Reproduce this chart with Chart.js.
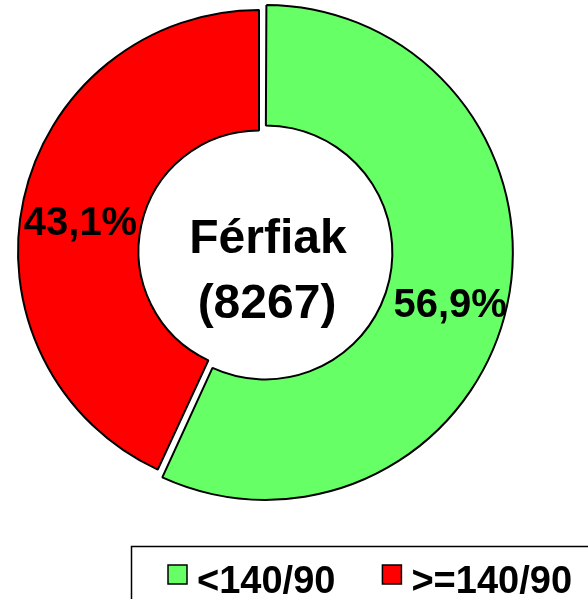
<!DOCTYPE html>
<html>
<head>
<meta charset="utf-8">
<script src="https://cdn.jsdelivr.net/npm/chart.js@4"></script>
<style>
    html, body { margin: 0; padding: 0; background: #fff; }
    #wrap { width: 588px; height: 599px; position: relative; overflow: hidden; }
    #pieChart { position: absolute; left: -10px; top: -10px; }
</style>
</head>
<body>
<div id="wrap"><canvas id="pieChart" width="608" height="619"></canvas></div>
<script>
// Chart data
const categories = ['<140/90', '>=140/90'];
const shares = [56.9, 43.1];
const sliceColors = ['#66ff66', '#ff0000'];
const sliceOffsets = [26, 0];
const centerLines = ['Férfiak', '(8267)'];

const FONT = '"Liberation Sans", Arial, sans-serif';
const SHIFT = 10; // canvas sits 10px up/left of the page

// Percent labels inside the slices
const sliceLabels = {
    id: 'sliceLabels',
    afterDatasetsDraw(chart) {
        const ctx = chart.ctx;
        const meta = chart.getDatasetMeta(0);
        ctx.save();
        ctx.font = 'bold 40px ' + FONT;
        ctx.fillStyle = '#000';
        ctx.textAlign = 'center';
        ctx.textBaseline = 'middle';
        meta.data.forEach((arc, i) => {
            const mid = (arc.startAngle + arc.endAngle) / 2;
            const r = (arc.innerRadius + arc.outerRadius) / 2 + (sliceOffsets[i] ? 17 : 0);
            const text = shares[i].toFixed(1).replace('.', ',') + '%';
            ctx.fillText(text, arc.x + Math.cos(mid) * r - 2, arc.y + Math.sin(mid) * r + 12);
        });
        ctx.restore();
    }
};

// Text in the hole
const centerText = {
    id: 'centerText',
    afterDraw(chart) {
        const ctx = chart.ctx;
        const arc = chart.getDatasetMeta(0).data[0];
        ctx.save();
        ctx.font = 'bold 48px ' + FONT;
        ctx.fillStyle = '#000';
        ctx.textAlign = 'center';
        ctx.textBaseline = 'alphabetic';
        ctx.fillText(centerLines[0], arc.x + 9, arc.y + 2);
        ctx.fillText(centerLines[1], arc.x + 8, arc.y + 67);
        ctx.restore();
    }
};

// Boxed legend at the bottom
const boxedLegend = {
    id: 'boxedLegend',
    afterDraw(chart) {
        const ctx = chart.ctx;
        ctx.save();
        ctx.translate(SHIFT, SHIFT);
        ctx.strokeStyle = '#000';
        ctx.lineWidth = 1.5;
        ctx.strokeRect(131.5, 546.5, 480, 80);

        ctx.font = 'bold 38px ' + FONT;
        ctx.textBaseline = 'alphabetic';
        ctx.textAlign = 'left';
        let x = 168;
        categories.forEach((label, i) => {
            ctx.fillStyle = sliceColors[i];
            ctx.fillRect(x, 565, 19, 19);
            ctx.lineWidth = 1.5;
            ctx.strokeRect(x, 565, 19, 19);
            ctx.fillStyle = '#000';
            ctx.fillText(label, x + 29, 593);
            x += 29 + ctx.measureText(label).width + 47;
        });
        ctx.restore();
    }
};

const ctx = document.getElementById('pieChart').getContext('2d');
window.pieChart = new Chart(ctx, {
    type: 'doughnut',
    data: {
        labels: categories,
        datasets: [{
            data: shares,
            backgroundColor: sliceColors,
            borderColor: '#000',
            borderWidth: 2,
            hoverBorderWidth: 2,
            offset: sliceOffsets,
            hoverOffset: 0
        }]
    },
    options: {
        responsive: false,
        animation: false,
        cutout: '50%',
        layout: {
            padding: { left: 12, right: 82, top: 6, bottom: 103 }
        },
        plugins: {
            legend: { display: false },
            tooltip: { enabled: false }
        }
    },
    plugins: [sliceLabels, centerText, boxedLegend]
});
</script>
</body>
</html>
